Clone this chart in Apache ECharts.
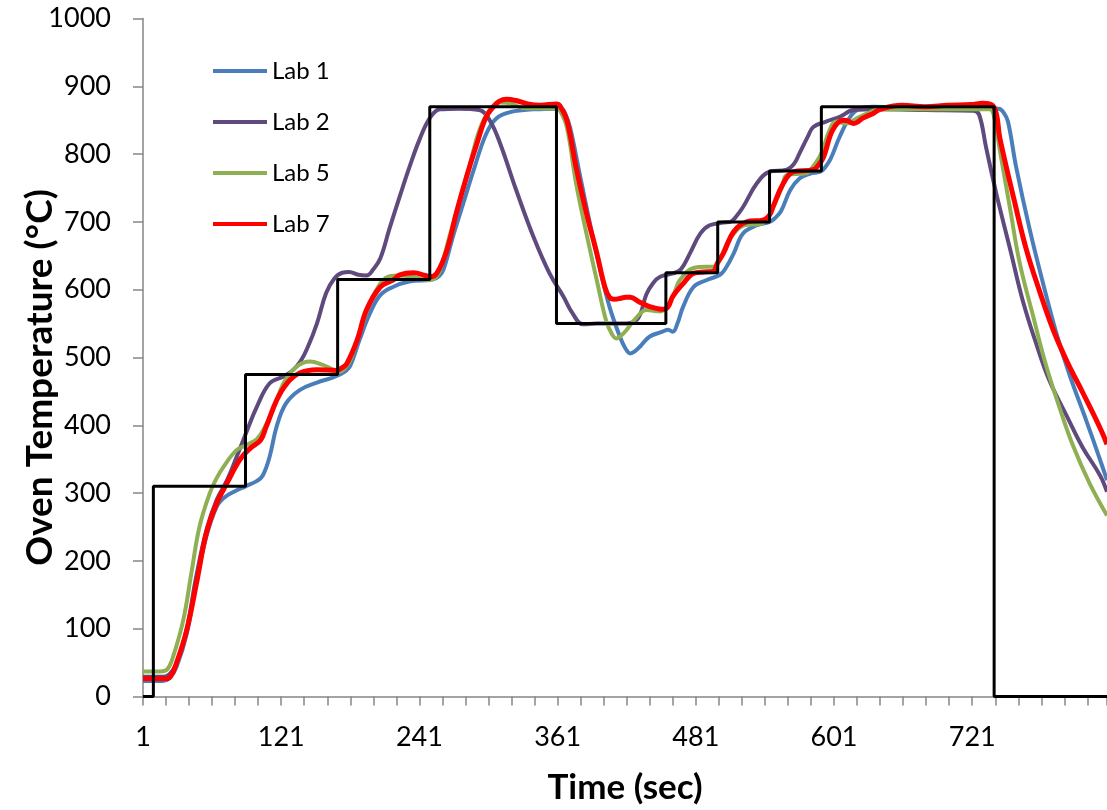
<!DOCTYPE html>
<html>
<head>
<meta charset="UTF-8">
<title>Oven Temperature</title>
<script src="https://cdn.jsdelivr.net/npm/echarts@6/dist/echarts.min.js"></script>
<style>
	html, body { margin: 0; padding: 0; background: #fff; }
	#chart { width: 1107px; height: 810px; }
</style>
</head>
<body>
<div id="chart"></div>
<script>
	// set point (step changes), time in sec starting at 1
	var setTime = [1, 10, 90, 170, 250, 360, 455, 500, 545, 590, 740, 838];
	var setTemp = [0, 310, 475, 615, 870, 550, 625, 700, 775, 870, 0, 0];

	// [time, temperature]
	var lab1 = [[1,23],[18,23],[24,27],[30,43],[39,93],[47,167],[56,236],[65,280],[72,294],[80,302],[90,310],[100,318],[105,326],[111,354],[117,398],[125,432],[137,452],[152,463],[165,470],[172,475],[177,480],[181,488],[189,526],[198,565],[207,592],[218,604],[232,612],[252,615],[258,620],[262,630],[270,678],[279,727],[288,776],[299,830],[308,853],[320,862],[340,866],[364,867],[368,858],[372,838],[380,772],[389,698],[398,629],[406,575],[415,531],[420,513],[424,506],[428,509],[433,517],[441,531],[452,538],[457,541],[461,538],[465,550],[470,575],[479,604],[490,614],[502,622],[507,632],[514,654],[522,683],[534,695],[545,700],[550,706],[555,716],[563,747],[571,764],[580,771],[589,774],[593,780],[598,793],[606,826],[615,855],[623,867],[635,870],[680,868],[720,868],[744,867],[748,862],[752,848],[759,782],[771,688],[783,606],[794,536],[806,472],[820,407],[832,349],[838,319]];
	var lab2 = [[1,29],[18,29],[24,33],[30,48],[39,100],[47,175],[56,245],[65,290],[74,319],[82,352],[91,391],[100,428],[111,462],[123,472],[131,481],[138,495],[144,515],[152,550],[160,595],[167,616],[174,625],[180,626],[188,622],[195,621],[201,630],[207,646],[215,690],[224,738],[233,784],[241,821],[250,853],[259,866],[275,867],[293,865],[302,850],[311,816],[325,747],[340,678],[354,624],[366,590],[374,565],[383,549],[395,550],[418,550],[428,553],[433,565],[438,593],[444,610],[450,619],[461,624],[468,630],[476,654],[485,683],[493,695],[505,699],[511,700],[516,708],[522,722],[534,757],[545,774],[560,777],[566,785],[571,801],[578,825],[583,840],[594,848],[606,855],[618,865],[640,866],[680,865],[722,864],[727,858],[733,810],[742,741],[754,659],[765,583],[777,518],[788,466],[803,414],[817,367],[832,326],[838,302]];
	var lab5 = [[1,37],[16,37],[22,40],[27,58],[36,113],[43,182],[50,250],[59,300],[65,322],[71,339],[82,363],[91,371],[100,380],[106,395],[114,423],[123,462],[134,486],[146,494],[157,489],[165,483],[172,479],[176,484],[181,496],[189,536],[198,580],[207,609],[215,620],[224,621],[235,619],[250,614],[255,618],[259,629],[267,678],[276,732],[285,786],[293,835],[302,865],[311,876],[320,875],[331,868],[360,867],[363,864],[369,840],[377,757],[386,683],[395,614],[403,555],[408,535],[412,528],[416,532],[421,541],[430,560],[438,570],[450,568],[458,580],[463,598],[467,614],[479,632],[490,634],[496,634],[502,645],[508,668],[514,683],[523,695],[537,697],[543,705],[549,725],[556,752],[560,769],[577,772],[583,782],[590,801],[597,835],[603,848],[612,845],[620,852],[630,860],[640,866],[680,866],[736,866],[740,855],[745,805],[754,718],[762,641],[774,560],[785,489],[797,425],[808,372],[823,314],[838,267]];
	var lab7 = [[1,26],[20,26],[25,30],[30,49],[39,98],[48,172],[56,241],[65,285],[74,315],[85,349],[94,366],[103,378],[108,398],[117,437],[126,462],[137,477],[152,482],[169,481],[174,485],[178,491],[187,526],[195,570],[207,604],[218,614],[224,622],[236,625],[246,621],[250,619],[256,624],[265,659],[273,713],[282,767],[291,816],[299,855],[308,875],[313,880],[317,881],[325,879],[335,874],[346,872],[360,874],[363,871],[369,850],[377,781],[386,713],[395,654],[402,604],[406,589],[410,586],[415,587],[420,589],[424,589],[432,582],[441,575],[453,571],[457,575],[461,590],[470,609],[479,624],[488,626],[496,627],[500,640],[505,654],[514,686],[525,700],[540,703],[545,710],[548,722],[557,757],[566,774],[583,777],[588,785],[592,796],[600,836],[609,850],[613,849],[618,845],[622,848],[626,853],[635,860],[641,866],[660,872],[680,870],[700,872],[720,873],[730,875],[740,869],[745,823],[757,735],[768,659],[780,595],[791,542],[803,495],[817,448],[832,396],[838,372]];

	var labNames = ['Lab 1', 'Lab 2', 'Lab 5', 'Lab 7'];
	var labColors = ['#4a7ebb', '#5f4a7d', '#8fb052', '#ff0000'];

	// category index on the axis starts at 0 for time 1
	function toAxis(list) {
		return list.map(function(p) { return [p[0] - 1, p[1]]; });
	}

	var font = 'Lato, "Open Sans", sans-serif';
	var labs = [lab1, lab2, lab5, lab7];
	var series = labs.map(function(d, i) {
		return {
			name: labNames[i],
			type: 'line',
			data: toAxis(d),
			smooth: 0.4,
			showSymbol: false,
			symbol: 'none',
			lineStyle: { color: labColors[i], width: i == 3 ? 5 : 4 },
			itemStyle: { color: labColors[i] }
		};
	});
	series.push({
		name: 'Set Point',
		type: 'line',
		step: 'end',
		data: setTime.map(function(t, i) { return [t - 1, setTemp[i]]; }),
		symbol: 'none',
		lineStyle: { color: '#000', width: 3 },
		itemStyle: { color: '#000' },
		z: 5
	});

	var myChart = echarts.init(document.getElementById('chart'));
	myChart.setOption({
		animation: false,
		backgroundColor: '#fff',
		grid: { left: 143, right: 0, top: 18.5, bottom: 113.5, containLabel: false, outerBoundsMode: 'none' },
		legend: {
			data: labNames,
			orient: 'vertical',
			left: 213,
			top: 59,
			padding: 0,
			itemWidth: 54,
			itemHeight: 4,
			itemGap: 27,
			icon: 'rect',
			textStyle: { fontFamily: font, fontSize: 24, color: '#000', lineHeight: 24 }
		},
		xAxis: {
			type: 'value',
			min: 0,
			max: 837,
			interval: 20,
			name: 'Time (sec)',
			nameLocation: 'middle',
			nameGap: 74,
			nameMoveOverlap: false,
			nameTextStyle: { fontFamily: font, fontSize: 35, fontWeight: 'bold', color: '#000' },
			splitLine: { show: false },
			axisLine: { lineStyle: { color: '#868686', width: 1.5 } },
			axisTick: { length: 9, lineStyle: { color: '#868686', width: 1.5 } },
			axisLabel: {
				margin: 27,
				fontFamily: font,
				fontSize: 27,
				color: '#000',
				formatter: function(v) { return v % 120 === 0 ? String(v + 1) : ''; }
			}
		},
		yAxis: {
			type: 'value',
			min: 0,
			max: 1000,
			interval: 100,
			name: 'Oven Temperature (°C)',
			nameLocation: 'middle',
			nameGap: 84,
			nameMoveOverlap: false,
			nameTextStyle: { fontFamily: font, fontSize: 37, fontWeight: 'bold', color: '#000', padding: [0, 40, 0, 0] },
			splitLine: { show: false },
			axisLine: { show: true, lineStyle: { color: '#868686', width: 1.5 } },
			axisTick: { show: true, length: 10, lineStyle: { color: '#868686', width: 1.5 } },
			axisLabel: { margin: 32, fontFamily: font, fontSize: 27, color: '#000', formatter: function(v) { return String(v); } }
		},
		series: series
	});
</script>
</body>
</html>
